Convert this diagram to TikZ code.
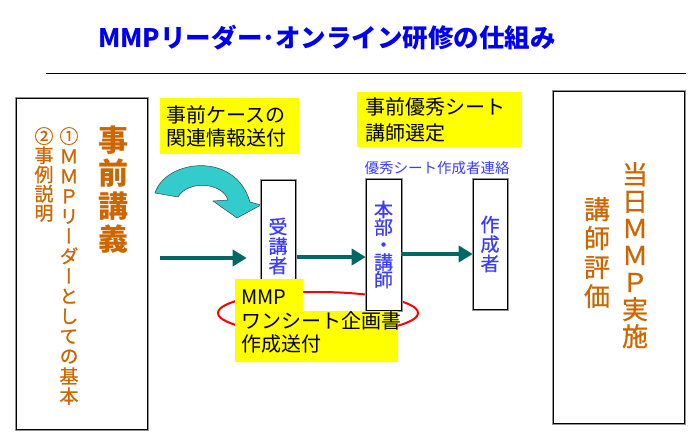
\documentclass[tikz,border=0pt]{standalone}
\usepackage{fontspec}
\setmainfont{Noto Sans CJK JP}
\newfontfamily\jpv[RawFeature=+vert]{Noto Sans CJK JP}
\newfontfamily\jpvm[RawFeature=+vert, FakeBold=0.8]{Noto Sans CJK JP}
\usetikzlibrary{arrows.meta}
\definecolor{ttl}{RGB}{0,0,240}
\definecolor{orng}{RGB}{204,102,0}
\definecolor{bluet}{RGB}{60,60,255}
\definecolor{tealc}{RGB}{0,102,102}
\definecolor{cyanf}{RGB}{51,204,204}
\definecolor{yel}{RGB}{255,255,0}
\tikzset{
  frame/.style={draw=black, line width=0.6pt, fill=white, preaction={draw=gray!85, line width=3pt}, inner sep=0pt},
  vt/.style={align=center, inner sep=0pt},
  ybox/.style={fill=yel, align=left, inner ysep=0pt, font=\fontsize{20}{23}\selectfont},
  tarrow/.style={draw=tealc, line width=4.5pt, -{Triangle[length=14pt,width=16pt]}},
}
\begin{document}
\begin{tikzpicture}[x=1pt,y=-1pt]
\useasboundingbox (0,0) rectangle (700,437);
\fill[white] (0,0) rectangle (700,437);

% title
\node[font=\bfseries\fontsize{25.5}{28}\selectfont, text=ttl] (title) at (327,38) {MMPリーダー･オンライン研修の仕組み};
\coordinate (l1) at (46,73);
\coordinate (l2) at (686,73);
\draw[line width=1pt] (l1) -- (l2);

% left box
\node[frame, minimum width=131pt, minimum height=331pt] (lec) at (81.5,263.5) {};
\node[vt, anchor=north, text=orng, font=\jpv\bfseries\fontsize{30}{33}\selectfont] (lect) at (113,126) {事\\前\\講\\義};
\node[vt, anchor=north, text=orng, font=\jpvm\fontsize{19}{20}\selectfont] (lec1) at (69,127) {①\\Ｍ\\Ｍ\\Ｐ\\リ\\ー\\ダ\\ー\\と\\し\\て\\の\\基\\本};
\node[vt, anchor=north, text=orng, font=\jpvm\fontsize{19}{19.2}\selectfont] (lec2) at (44,127) {②\\事\\例\\説\\明};

% right box
\node[frame, minimum width=131pt, minimum height=332pt] (day) at (618.5,257) {};
\node[vt, anchor=north, text=orng, font=\jpvm\fontsize{26}{27}\selectfont] (day1) at (635,162) {当\\日\\Ｍ\\Ｍ\\Ｐ\\実\\施};
\node[vt, anchor=north, text=orng, font=\jpvm\fontsize{26}{29}\selectfont] (day2) at (597,197) {講\\師\\評\\価};

% yellow boxes top
\node[ybox, anchor=north west, text width=127pt, inner xsep=6pt, minimum height=56pt] (case) at (160,98) {事前ケースの\\関連情報送付};
\node[ybox, anchor=north west, text width=149pt, inner xsep=8pt, minimum height=55pt, font=\fontsize{20}{26}\selectfont] (sel) at (357,92) {事前優秀シート\\講師選定};

\node[font=\fontsize{14.5}{16}\selectfont, text=bluet] (lbl) at (437,168) {優秀シート作成者連絡};

% red ellipse
\draw[red, line width=2pt] (318,313) ellipse [x radius=100, y radius=21];

% cyan curved arrow
\draw[draw=gray!50!black, line width=0.5pt, fill=cyanf]
  (155,193) .. controls (165,160) and (235,150) .. (250,202)
  -- (261,205) -- (237,218) -- (213,201) -- (228,200)
  .. controls (222,182) and (188,180) .. (178,197) -- cycle;

% boxes
\node[frame, minimum width=34pt, minimum height=132pt, vt, text=bluet, font=\jpvm\fontsize{19}{19.5}\selectfont] (recv) at (278,246) {受\\講\\者};
\node[frame, minimum width=35pt, minimum height=131pt, vt, text=bluet, font=\jpvm\fontsize{19}{17.5}\selectfont] (hq) at (383.5,244.5) {本\\部\\・\\講\\師};
\node[frame, minimum width=34pt, minimum height=130pt, vt, text=bluet, font=\jpvm\fontsize{19}{19.5}\selectfont] (maker) at (490,244) {作\\成\\者};

% teal arrows
\coordinate (a1) at (160,258);
\coordinate (a2) at (0,257);
\coordinate (a3) at (0,254);
\draw[tarrow, shorten >=14pt] (a1) -- (recv.west |- a1);
\draw[tarrow, shorten <=2pt] (recv.east |- a2) -- (hq.west |- a2);
\draw[tarrow] (hq.east |- a3) -- (maker.west |- a3);

% MMP yellow
\fill[yel] (235,279) -- (303,279) -- (303,311) -- (398,311) -- (398,362) -- (235,362) -- cycle;
\node[anchor=north west, inner sep=0pt, align=left, font=\fontsize{20}{23.5}\selectfont] (plan) at (241,290) {MMP\\ワンシート企画書\\作成送付};
\end{tikzpicture}
\end{document}
